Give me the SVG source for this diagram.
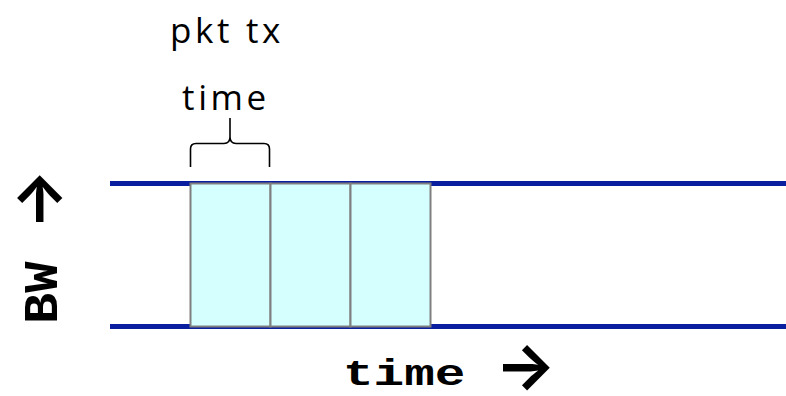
<svg xmlns="http://www.w3.org/2000/svg" width="786" height="396" viewBox="0 0 786 396">
<style>
.rail{stroke:#0a1fa0;stroke-width:5;fill:none}
.pkt{fill:#d5ffff;stroke:#7f7f7f;stroke-width:2}
.lbl{font-family:"Open Sans","Noto Sans",sans-serif;font-size:35px;letter-spacing:3.6px;fill:#000}
.mono{font-family:"Liberation Mono","Courier New",monospace;font-weight:bold;fill:#000}
.arr{font-family:Inter,"DejaVu Sans",sans-serif;font-weight:bold;font-size:64px;fill:#000}
.brace{fill:none;stroke:#000;stroke-width:1.6}
</style>
<rect width="786" height="396" fill="#fff"/>
<g id="connectors">
<line class="rail" x1="110" y1="183.5" x2="786" y2="183.5"/>
<line class="rail" x1="110" y1="326.5" x2="786" y2="326.5"/>
</g>
<g id="pkt1"><rect class="pkt" x="190.5" y="183.5" width="80" height="143"/></g>
<g id="pkt2"><rect class="pkt" x="270.5" y="183.5" width="80" height="143"/></g>
<g id="pkt3"><rect class="pkt" x="350.5" y="183.5" width="80" height="143"/></g>
<g id="brace">
<path class="brace" d="M190.5,167 V149 Q190.5,143.5 196,143.5 H224 Q230,143.5 230,137 V118 M230,137 Q230,143.5 236,143.5 H264 Q269.5,143.5 269.5,149 V167"/>
</g>
<g id="label-pkt">
<text class="lbl" x="227" y="43" text-anchor="middle">pkt tx</text>
<text class="lbl" x="226" y="110" text-anchor="middle">time</text>
</g>
<g id="label-time">
<text class="mono" font-size="51" transform="translate(343,385) scale(1,0.72)">time</text>
<text class="arr" x="495" y="388">→</text>
</g>
<g id="label-bw" transform="translate(57,324) rotate(-90)">
<text class="mono" font-size="52" transform="scale(1,0.93)">BW</text>
<text class="arr" x="94" y="3">→</text>
</g>
</svg>
